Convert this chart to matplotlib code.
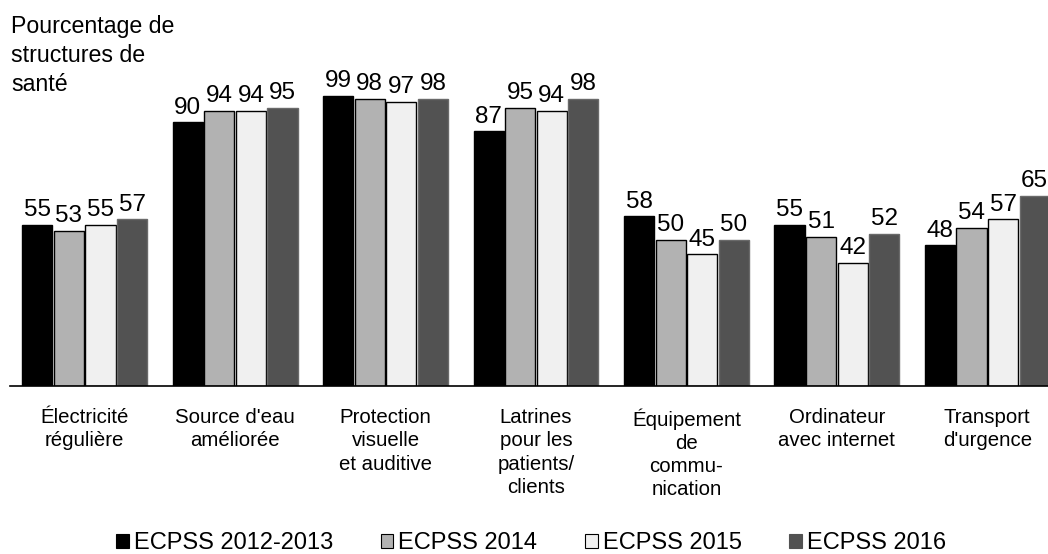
import numpy as np
import matplotlib
matplotlib.use('Agg')
import matplotlib.pyplot as plt
from matplotlib.patches import Patch

plt.rcParams['font.family'] = ['Liberation Sans', 'DejaVu Sans']

categories = ['Électricité\nrégulière', "Source d'eau\naméliorée",
              'Protection\nvisuelle\net auditive',
              'Latrines\npour les\npatients/\nclients',
              'Équipement\nde\ncommu-\nnication',
              'Ordinateur\navec internet', "Transport\nd'urgence"]
series = ['ECPSS 2012-2013', 'ECPSS 2014', 'ECPSS 2015', 'ECPSS 2016']
v2012 = [55, 90, 99, 87, 58, 55, 48]
v2014 = [53, 94, 98, 95, 50, 51, 54]
v2015 = [55, 94, 97, 94, 45, 42, 57]
v2016 = [57, 95, 98, 98, 50, 52, 65]

colors = ['#000000', '#b2b2b2', '#f0f0f0', '#525252']
edges = ['#000000', '#000000', '#000000', '#6a6a6a']

fig = plt.figure(figsize=(10.48, 5.54), dpi=100)
# axes runs a bit past the right edge, like the original
ax = fig.add_axes([9.5 / 1048, 168 / 554, 1053 / 1048, 293 / 554])

x = np.arange(len(categories))
w = 0.2
step = 0.21
for i, vals in enumerate([v2012, v2014, v2015, v2016]):
    pos = x + (i - 1.5) * step
    ax.bar(pos, vals, w, color=colors[i], edgecolor=edges[i], linewidth=1)
    for p, v in zip(pos, vals):
        ax.annotate(str(v), (p, v), xytext=(0, 2.5), textcoords='offset points',
                    ha='center', va='bottom', fontsize=17.5, clip_on=False)

ax.set_xlim(-0.5, 6.5)
ax.set_ylim(0, 100)
ax.set_xticks(x)
ax.set_xticklabels(categories, fontsize=14.7, linespacing=1.28)
ax.tick_params(axis='x', length=0, pad=16)
ax.set_yticks([])
for s in ['left', 'right', 'top']:
    ax.spines[s].set_visible(False)
ax.spines['bottom'].set_linewidth(1.2)

fig.text(11 / 1048, 1 - 15 / 554, 'Pourcentage de\nstructures de\nsanté',
         ha='left', va='top', fontsize=16.7, linespacing=1.34)

handles = [Patch(facecolor=colors[i], edgecolor=edges[i] if i < 3 else colors[i], linewidth=0.8)
           for i in range(4)]
fig.legend(handles, series, loc='lower center', ncol=4,
           bbox_to_anchor=(531 / 1048, -12 / 554), frameon=False, borderpad=0,
           fontsize=17, handlelength=0.55, handleheight=0.55,
           handletextpad=0.21, columnspacing=2.0)

fig.savefig('out.png', dpi=100)
